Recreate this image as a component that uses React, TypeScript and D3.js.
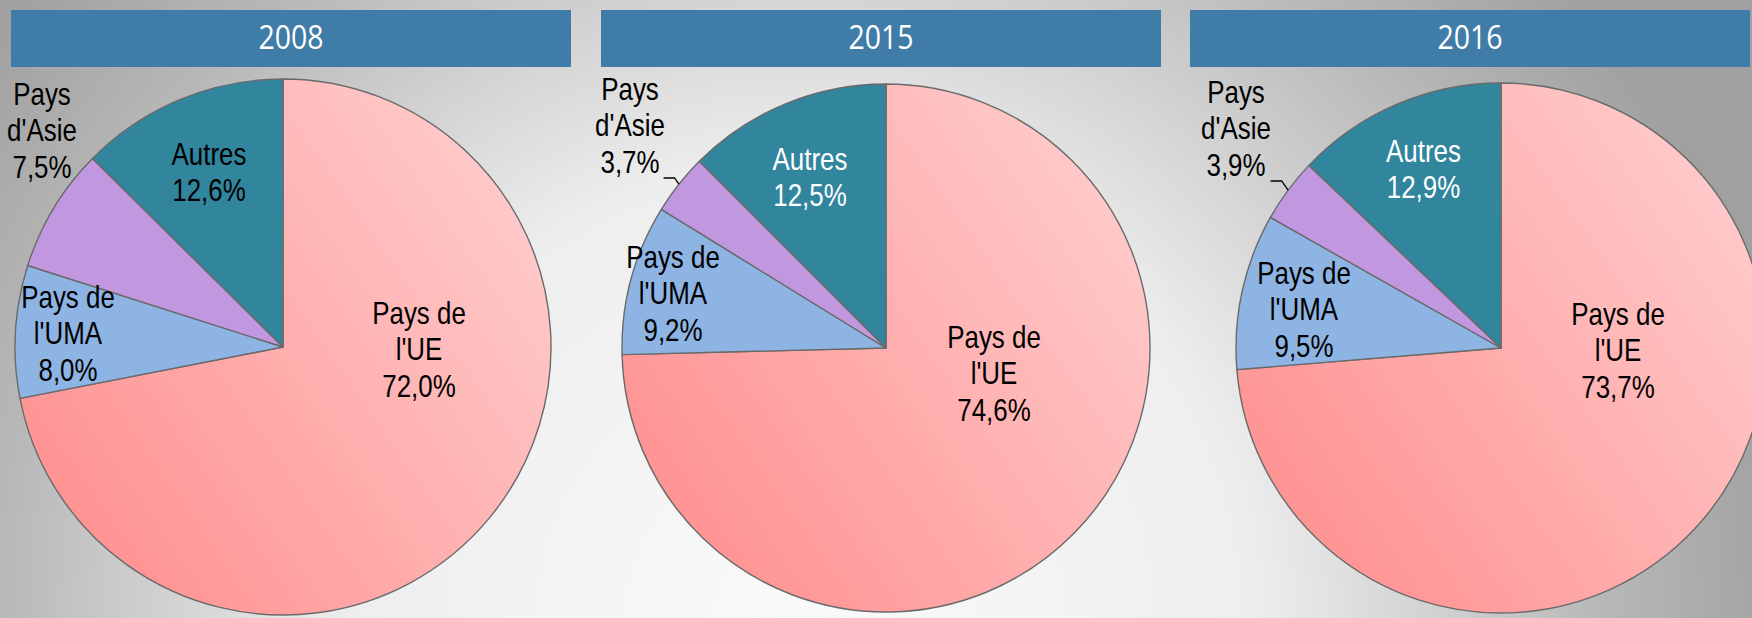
import * as d3 from "d3";

const years = ["2008", "2015", "2016"];
const categories = ["Pays de l'UE", "Pays de l'UMA", "Pays d'Asie", "Autres"];
const categoryLines = [["Pays de", "l'UE"], ["Pays de", "l'UMA"], ["Pays", "d'Asie"], ["Autres"]];
const shareUE = [72.0, 74.6, 73.7];
const shareUMA = [8.0, 9.2, 9.5];
const shareAsie = [7.5, 3.7, 3.9];
const shareAutres = [12.6, 12.5, 12.9];

const W = 1752, H = 618;
const HEADER_W = 560, HEADER_Y = 10, HEADER_H = 57;
const LINE_H = 36.5;

// panel geometry (header left, pie centre, radius)
const panels = [
  { hx: 11, cx: 283, cy: 347, r: 268 },
  { hx: 601, cx: 886, cy: 348, r: 264 },
  { hx: 1190, cx: 1501, cy: 348, r: 265 }
];

// label offsets from pie centre: [dx, first baseline dy], per category
const labelOffsets = [
  [[136, -23], [-215, -39], [-241, -242], [-74, -182]],
  [[108, 0], [-213, -80], [-256, -248], [-76, -178]],
  [[117, -23], [-197, -64], [-265, -245], [-77.5, -186]]
];
const autresInk = ["#000", "#fff", "#fff"];

const fills = ["url(#ueGrad)", "#8EB4E3", "#C197DF", "#31859C"];

const fmt = (v: number) => v.toFixed(1).replace(".", ",") + "%";

function Panel({ i }: { i: number }) {
  const p = panels[i];
  const values = [shareUE[i], shareUMA[i], shareAsie[i], shareAutres[i]];
  const pie = d3.pie<number>().sort(null).value(d => d)(values);
  const arc = d3.arc<d3.PieArcDatum<number>>().innerRadius(0).outerRadius(p.r);

  return (
    <g>
      <rect x={p.hx} y={HEADER_Y} width={HEADER_W} height={HEADER_H} fill="#3F7CA7" />
      <text
        transform={`translate(${p.hx + HEADER_W / 2},${HEADER_Y + 39}) scale(0.89,1)`}
        textAnchor="middle"
        fontFamily="'Open Sans', sans-serif"
        fontSize={32}
        fill="#fff"
      >
        {years[i]}
      </text>
      <g transform={`translate(${p.cx},${p.cy})`}>
        {pie.map((d, k) => (
          <path
            key={categories[k]}
            d={arc(d) ?? ""}
            fill={fills[k]}
            stroke="#6a6a6a"
            strokeWidth={1.4}
            strokeLinejoin="round"
          />
        ))}
        {pie.map((d, k) => {
          const [dx, dy] = labelOffsets[i][k];
          const lines = [...categoryLines[k], fmt(values[k])];
          const ink = k === 3 ? autresInk[i] : "#000";
          const lastBase = dy + (lines.length - 1) * LINE_H;
          let leader = null;
          if (k === 2 && values[k] < 5) {
            const mid = (d.startAngle + d.endAngle) / 2;
            const ex = Math.sin(mid) * p.r, ey = -Math.cos(mid) * p.r;
            const ky = lastBase + 5;
            const kx = ex - (ey - ky) * 0.7;
            leader = (
              <path
                d={`M${kx - 11},${ky} L${kx},${ky} L${ex},${ey}`}
                fill="none"
                stroke="#000"
                strokeWidth={1.3}
              />
            );
          }
          return (
            <g key={"l" + k}>
              {leader}
              <text
                transform={`translate(${dx},${dy}) scale(0.81,1)`}
                textAnchor="middle"
                fontFamily="'Liberation Sans', Arial, sans-serif"
                fontSize={32}
                fill={ink}
              >
                {lines.map((t, j) => (
                  <tspan key={j} x={0} y={j * LINE_H}>
                    {t}
                  </tspan>
                ))}
              </text>
            </g>
          );
        })}
      </g>
    </g>
  );
}

export default function App() {
  return (
    <svg
      width={W}
      height={H}
      viewBox={`0 0 ${W} ${H}`}
      style={{ position: "absolute", left: 0, top: 0, display: "block" }}
    >
      <defs>
        <radialGradient id="bgGrad" gradientUnits="userSpaceOnUse" cx={800} cy={618} r={1000}>
          <stop offset="0" stopColor="#fafafa" />
          <stop offset="0.45" stopColor="#eeeeee" />
          <stop offset="0.8" stopColor="#b8b8b8" />
          <stop offset="1" stopColor="#a0a0a0" />
        </radialGradient>
        <linearGradient id="ueGrad" x1="0" y1="0.85" x2="1" y2="0.15">
          <stop offset="0" stopColor="#FF8E8E" />
          <stop offset="1" stopColor="#FFCECE" />
        </linearGradient>
      </defs>
      <rect x={0} y={0} width={W} height={H} fill="url(#bgGrad)" />
      {years.map((y, i) => (
        <Panel key={y} i={i} />
      ))}
    </svg>
  );
}
